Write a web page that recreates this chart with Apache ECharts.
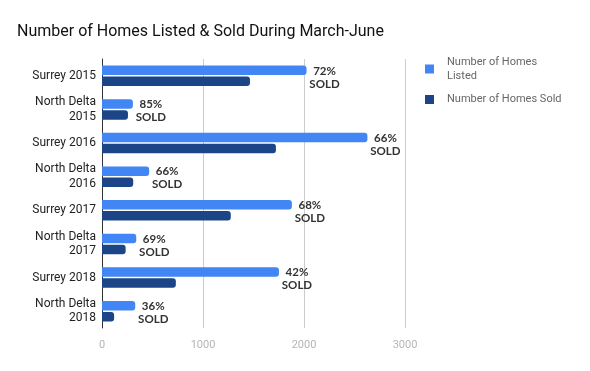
<!DOCTYPE html>
<html>
<head>
<meta charset="utf-8">
<script src="https://cdn.jsdelivr.net/npm/echarts@6/dist/echarts.min.js"></script>
<style>
html,body{margin:0;padding:0;background:#fff;}
#c{width:590px;height:371px;}
</style>
</head>
<body>
<div id="c"></div>
<script>
var categories = ['Surrey 2015','North Delta\n2015','Surrey 2016','North Delta\n2016','Surrey 2017','North Delta\n2017','Surrey 2018','North Delta\n2018'];
var listed = [2025, 306, 2628, 467, 1880, 339, 1752, 329];
var sold = [1465, 257, 1722, 309, 1275, 234, 731, 120];
var soldPct = ['72%','85%','66%','66%','68%','69%','42%','36%'];
var xTicks = [0, 1000, 2000, 3000];

var chart = echarts.init(document.getElementById('c'), null, {renderer:'canvas'});
chart.setOption({
  animation: false,
  backgroundColor: '#fff',
  title: {
    text: 'Number of Homes Listed & Sold During March-June',
    left: 12, top: 19,
    textStyle: {fontFamily: 'Roboto', fontSize: 16, fontWeight: 'normal', color: '#111'}
  },
  legend: [{
    data: ['Number of Homes Listed'],
    orient: 'vertical', left: 420, top: 43,
    icon: 'rect', itemWidth: 9, itemHeight: 9,
    formatter: function(){ return 'Number of Homes\nListed'; },
    textStyle: {fontFamily: 'Roboto', fontSize: 11, color: '#666', lineHeight: 13.5, padding: [15,0,0,8]}
  },{
    data: ['Number of Homes Sold'],
    orient: 'vertical', left: 420, top: 89,
    icon: 'rect', itemWidth: 9, itemHeight: 9,
    textStyle: {fontFamily: 'Roboto', fontSize: 11, color: '#666', padding: [0,0,0,8]}
  }],
  grid: {left: 102, right: 185, top: 59, height: 269, containLabel: false},
  xAxis: {
    type: 'value', min: xTicks[0], max: xTicks[xTicks.length-1], interval: 1000,
    axisLine: {show: false}, axisTick: {show: false},
    axisLabel: {fontFamily: 'Roboto', fontSize: 11, color: '#b5b5b5', margin: 12,
      formatter: function(v){ return String(v); }},
    splitLine: {lineStyle: {color: '#cccccc', width: 1}}
  },
  yAxis: {
    type: 'category', data: categories, inverse: true,
    axisLine: {lineStyle: {color: '#333', width: 1}},
    axisTick: {show: false},
    axisLabel: {fontFamily: 'Roboto', fontSize: 12, color: '#222', margin: 6, lineHeight: 14.5, align: 'right'}
  },
  series: [{
    name: 'Number of Homes Listed', type: 'bar', data: listed,
    barWidth: 9.5, barGap: '15%',
    itemStyle: {color: '#4285f4', borderRadius: [0,3,3,0]},
    label: {
      show: true, position: 'right', distance: 18, align: 'center', offset: [0, 7],
      formatter: function(p){ return soldPct[p.dataIndex] + '\nSOLD'; },
      fontFamily: 'Lato', fontWeight: 'bold', fontSize: 11.5, color: '#333', lineHeight: 13
    }
  },{
    name: 'Number of Homes Sold', type: 'bar', data: sold,
    barWidth: 9.5,
    itemStyle: {color: '#1c4587', borderRadius: [0,3,3,0]}
  }]
});
</script>
</body>
</html>
